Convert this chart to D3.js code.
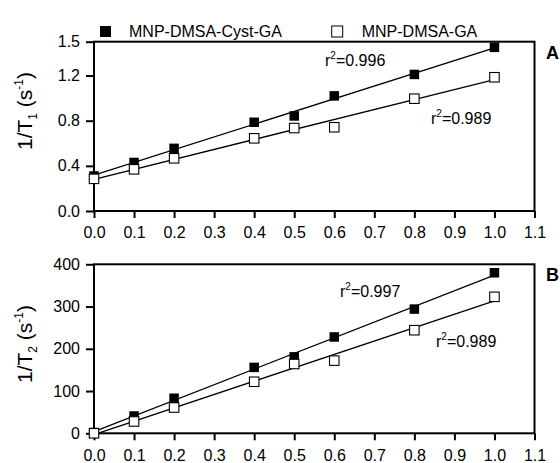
<!DOCTYPE html>
<html>
<head>
<meta charset="utf-8">
<script src="https://cdn.jsdelivr.net/npm/d3@7"></script>
<style>
  body { margin: 0; background: #fff; }
  svg { font-family: "Liberation Sans", Arial, sans-serif; }
</style>
</head>
<body>
<div id="chart"></div>
<script>
// concentración (x) y relaxividades
const conc = [0, 0.1, 0.2, 0.4, 0.5, 0.6, 0.8, 1.0];
const r1Cyst = [0.31, 0.43, 0.555, 0.786, 0.842, 1.02, 1.21, 1.45];
const r1Dmsa = [0.285, 0.369, 0.467, 0.644, 0.735, 0.742, 0.995, 1.185];
const r2Cyst = [2, 41, 83, 156, 181, 228, 294, 380];
const r2Dmsa = [0, 28, 61, 122, 164, 172, 244, 323];
const xTicks = [0, 0.1, 0.2, 0.3, 0.4, 0.5, 0.6, 0.7, 0.8, 0.9, 1.0, 1.1];
const y1Ticks = [0, 0.4, 0.8, 1.2, 1.5];
const y2Ticks = [0, 100, 200, 300, 400];
const seriesNames = ["MNP-DMSA-Cyst-GA", "MNP-DMSA-GA"];
const r2Labels = [["0.996", "0.989"], ["0.997", "0.989"]];

const width = 560, height = 463;
const svg = d3.select("#chart").append("svg")
    .attr("width", width)
    .attr("height", height);

const x = d3.scaleLinear().domain([0, 1.1]).range([94, 534.5]);

// ajuste lineal por mínimos cuadrados
function fit(xs, ys) {
    const mx = d3.mean(xs), my = d3.mean(ys);
    const sxy = d3.sum(xs, (v, i) => (v - mx) * (ys[i] - my));
    const sxx = d3.sum(xs, v => (v - mx) * (v - mx));
    const b = sxy / sxx;
    return { a: my - b * mx, b: b };
}

function panel(cfg) {
    const y = d3.scaleLinear().domain(cfg.domain).range([cfg.bottom, cfg.top]);
    const g = svg.append("g");

    // ejes
    const ax = g.append("g")
        .attr("transform", `translate(0,${cfg.bottom})`)
        .call(d3.axisBottom(x).tickValues(xTicks).tickFormat(d3.format(".1f"))
            .tickSize(7).tickSizeOuter(0).tickPadding(9));
    const ay = g.append("g")
        .attr("transform", `translate(${x(0)},0)`)
        .call(d3.axisLeft(y).tickValues(cfg.ticks).tickFormat(cfg.fmt)
            .tickSize(8).tickSizeOuter(0).tickPadding(6));
    [ax, ay].forEach(a => {
        a.select(".domain").remove();
        a.selectAll("line").attr("stroke", "#000").attr("stroke-width", 2);
        a.selectAll("text").attr("font-size", 16).attr("fill", "#000");
    });

    // marco
    g.append("rect")
        .attr("x", x(0)).attr("y", cfg.top)
        .attr("width", x(1.1) - x(0)).attr("height", cfg.bottom - cfg.top)
        .attr("fill", "none").attr("stroke", "#000").attr("stroke-width", 2);

    // rectas de ajuste
    cfg.series.forEach(s => {
        const f = fit(conc, s.values);
        g.append("line")
            .attr("x1", x(0)).attr("y1", y(f.a))
            .attr("x2", x(1.0)).attr("y2", y(f.a + f.b))
            .attr("stroke", "#000").attr("stroke-width", 1.3);
    });

    // puntos
    cfg.series.forEach(s => {
        g.selectAll(null)
            .data(conc.map((c, i) => [c, s.values[i]]))
            .enter().append("rect")
            .attr("x", d => x(d[0]) - 4.75)
            .attr("y", d => y(d[1]) - 4.75)
            .attr("width", 9.5).attr("height", 9.5)
            .attr("fill", s.filled ? "#000" : "#fff")
            .attr("stroke", "#000").attr("stroke-width", s.filled ? 0 : 1.1);
    });

    // etiquetas r²
    cfg.labels.forEach(l => {
        const t = g.append("text").attr("x", l.x).attr("y", l.y).attr("font-size", 16);
        t.append("tspan").text("r");
        t.append("tspan").attr("font-size", 10).attr("dy", -7).text("2");
        t.append("tspan").attr("dy", 7).text("=" + l.text);
    });

    // letra del panel
    g.append("text").attr("x", 546).attr("y", cfg.top + 17)
        .attr("font-size", 18).attr("font-weight", "bold").text(cfg.letter);

    // título del eje y
    const yl = g.append("text")
        .attr("transform", `translate(32,${cfg.labelY}) rotate(-90)`)
        .attr("text-anchor", "middle")
        .attr("font-size", 21);
    yl.append("tspan").text("1/T");
    yl.append("tspan").attr("font-size", 12).attr("dy", 5).text(cfg.sub);
    yl.append("tspan").attr("dy", -5).text(" (s");
    yl.append("tspan").attr("font-size", 12).attr("dy", -9).text("-1");
    yl.append("tspan").attr("dy", 9).text(")");
}

panel({
    domain: [0, 1.5], top: 41.7, bottom: 211, ticks: y1Ticks, fmt: d3.format(".1f"),
    series: [{ values: r1Cyst, filled: true }, { values: r1Dmsa, filled: false }],
    labels: [{ x: 325, y: 66, text: r2Labels[0][0] }, { x: 431, y: 124, text: r2Labels[0][1] }],
    letter: "A", sub: "1", labelY: 111
});

panel({
    domain: [0, 400], top: 264.3, bottom: 433.3, ticks: y2Ticks, fmt: d3.format("d"),
    series: [{ values: r2Cyst, filled: true }, { values: r2Dmsa, filled: false }],
    labels: [{ x: 340, y: 297, text: r2Labels[1][0] }, { x: 436, y: 347, text: r2Labels[1][1] }],
    letter: "B", sub: "2", labelY: 344
});

// leyenda
const legend = svg.append("g");
[[100, 129, true], [331.7, 361.7, false]].forEach((p, i) => {
    legend.append("rect")
        .attr("x", p[0]).attr("y", 26).attr("width", 11).attr("height", 11)
        .attr("fill", p[2] ? "#000" : "#fff")
        .attr("stroke", "#000").attr("stroke-width", p[2] ? 0 : 1);
    legend.append("text")
        .attr("x", p[1]).attr("y", 37).attr("font-size", 16)
        .text(seriesNames[i]);
});
</script>
</body>
</html>
